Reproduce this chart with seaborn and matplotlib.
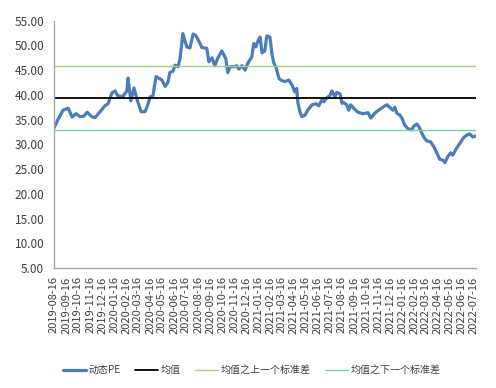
import matplotlib
matplotlib.use("Agg")
import matplotlib.pyplot as plt
import matplotlib.dates as mdates
import matplotlib.ticker as mticker
import seaborn as sns
import pandas as pd

dates = [
    "2019-08-16", "2019-08-26", "2019-09-08", "2019-09-21", "2019-10-01", "2019-10-11",
    "2019-10-21", "2019-10-31", "2019-11-08", "2019-11-20", "2019-11-28", "2019-12-11",
    "2019-12-23", "2019-12-31", "2020-01-10", "2020-01-18", "2020-01-25", "2020-02-07",
    "2020-02-17", "2020-02-20", "2020-02-27", "2020-03-06", "2020-03-14", "2020-03-24",
    "2020-04-03", "2020-04-10", "2020-04-16", "2020-04-23", "2020-05-01", "2020-05-16",
    "2020-05-24", "2020-05-31", "2020-06-05", "2020-06-13", "2020-06-18", "2020-06-26",
    "2020-07-01", "2020-07-08", "2020-07-18", "2020-07-26", "2020-08-03", "2020-08-10",
    "2020-08-20", "2020-08-25", "2020-09-07", "2020-09-10", "2020-09-12", "2020-09-20",
    "2020-09-27", "2020-10-05", "2020-10-15", "2020-10-25", "2020-10-30", "2020-11-05",
    "2020-11-15", "2020-11-22", "2020-11-27", "2020-12-05", "2020-12-13", "2020-12-20",
    "2020-12-30", "2021-01-04", "2021-01-09", "2021-01-15", "2021-01-20", "2021-01-25",
    "2021-02-01", "2021-02-06", "2021-02-14", "2021-02-19", "2021-02-24", "2021-03-01",
    "2021-03-09", "2021-03-16", "2021-03-24", "2021-04-03", "2021-04-11", "2021-04-18",
    "2021-04-23", "2021-04-26", "2021-05-01", "2021-05-06", "2021-05-14", "2021-05-21",
    "2021-06-01", "2021-06-11", "2021-06-18", "2021-06-26", "2021-07-01", "2021-07-09",
    "2021-07-16", "2021-07-21", "2021-07-29", "2021-08-03", "2021-08-11", "2021-08-16",
    "2021-08-21", "2021-08-28", "2021-09-02", "2021-09-07", "2021-09-15", "2021-09-25",
    "2021-10-08", "2021-10-21", "2021-10-28", "2021-11-07", "2021-11-20", "2021-12-03",
    "2021-12-08", "2021-12-15", "2021-12-23", "2021-12-28", "2022-01-02", "2022-01-10",
    "2022-01-15", "2022-01-22", "2022-01-30", "2022-02-09", "2022-02-14", "2022-02-22",
    "2022-02-27", "2022-03-07", "2022-03-12", "2022-03-19", "2022-03-29", "2022-04-06",
    "2022-04-14", "2022-04-21", "2022-04-29", "2022-05-04", "2022-05-12", "2022-05-19",
    "2022-05-24", "2022-06-01", "2022-06-11", "2022-06-21", "2022-06-29", "2022-07-06",
    "2022-07-14", "2022-07-22",
]
pe_values = [
    33.3, 35.0, 36.9, 37.3, 35.5, 36.2,
    35.6, 35.7, 36.5, 35.6, 35.4, 36.6,
    37.8, 38.2, 40.4, 40.8, 39.8, 39.7,
    40.8, 43.4, 38.8, 41.4, 39.0, 36.6,
    36.6, 38.0, 39.6, 39.8, 43.7, 43.0,
    41.7, 42.5, 44.5, 44.8, 46.0, 45.7,
    47.4, 52.4, 49.7, 49.5, 52.3, 52.0,
    50.5, 49.6, 49.4, 47.8, 46.7, 47.5,
    45.9, 47.5, 48.9, 47.3, 44.5, 45.7,
    45.7, 45.9, 45.2, 45.9, 45.0, 46.4,
    47.7, 50.4, 49.7, 51.0, 51.7, 48.5,
    48.9, 51.9, 51.7, 48.4, 46.4, 45.7,
    43.3, 42.9, 42.7, 43.0, 42.0, 40.6,
    41.3, 38.4, 36.6, 35.6, 35.9, 36.9,
    38.0, 38.2, 37.8, 39.0, 38.6, 39.5,
    39.8, 40.8, 39.7, 40.5, 40.2, 38.3,
    38.4, 38.0, 36.9, 38.0, 37.3, 36.5,
    36.2, 36.4, 35.3, 36.3, 37.1, 37.8,
    38.0, 37.5, 36.9, 37.5, 36.3, 35.9,
    35.3, 33.9, 33.2, 32.9, 33.7, 34.1,
    33.6, 32.2, 31.4, 30.7, 30.5, 29.5,
    28.2, 27.0, 26.8, 26.3, 27.6, 28.3,
    27.8, 29.0, 30.2, 31.4, 31.9, 32.1,
    31.5, 31.7,
]
mean_value = 39.4
upper_value = 45.8
lower_value = 33.0
series_labels = ["动态PE", "均值", "均值之上一个标准差", "均值之下一个标准差"]
tick_start = "2019-08-16"
tick_end = "2022-07-16"

sns.set_theme(style="white")
plt.rcParams["font.family"] = ["Noto Sans CJK SC", "DejaVu Sans"]

df = pd.DataFrame({"date": pd.to_datetime(dates), "pe": pe_values})
df["mean"] = mean_value
df["upper"] = upper_value
df["lower"] = lower_value

fig = plt.figure(figsize=(4.96, 3.88), dpi=100)
ax = fig.add_axes([54 / 496, 1 - 268 / 388, (476 - 54) / 496, (268 - 20.7) / 388])

sns.lineplot(data=df, x="date", y="pe", ax=ax, color="#4a7ebb", linewidth=2.3,
             label=series_labels[0])
sns.lineplot(data=df, x="date", y="mean", ax=ax, color="#000000", linewidth=1.3,
             label=series_labels[1])
sns.lineplot(data=df, x="date", y="upper", ax=ax, color="#a6cf7a", linewidth=1.0,
             label=series_labels[2])
sns.lineplot(data=df, x="date", y="lower", ax=ax, color="#6dd59b", linewidth=1.0,
             label=series_labels[3])

ax.set_xlim(pd.Timestamp(dates[0]), pd.Timestamp(dates[-1]))
ax.set_ylim(5, 55)
ax.yaxis.set_major_locator(mticker.MultipleLocator(5))
ax.yaxis.set_major_formatter(mticker.FormatStrFormatter("%.2f"))
ticks = pd.date_range(tick_start, tick_end, freq=pd.DateOffset(months=1))
ax.set_xticks(ticks)
ax.xaxis.set_major_formatter(mdates.DateFormatter("%Y-%m-%d"))
ax.set_xlabel("")
ax.set_ylabel("")

for side in ["top", "right"]:
    ax.spines[side].set_visible(False)
for side in ["left", "bottom"]:
    ax.spines[side].set_color("#a6a6a6")
    ax.spines[side].set_linewidth(1.0)

ax.tick_params(axis="both", which="major", direction="out", length=4, width=0.8,
               color="#a6a6a6", labelcolor="#404040", labelsize=8.5)
ax.tick_params(axis="x", labelrotation=90, labelsize=8, pad=2)
ax.tick_params(axis="y", pad=3)

leg = ax.legend(loc="center", bbox_to_anchor=(252 / 496, 1 - 370 / 388),
                bbox_transform=fig.transFigure, ncol=4, frameon=False,
                fontsize=7.2, handlelength=2.3, columnspacing=1.4, handletextpad=0.3)
for t in leg.get_texts():
    t.set_color("#404040")

fig.savefig("out.png", dpi=100)
